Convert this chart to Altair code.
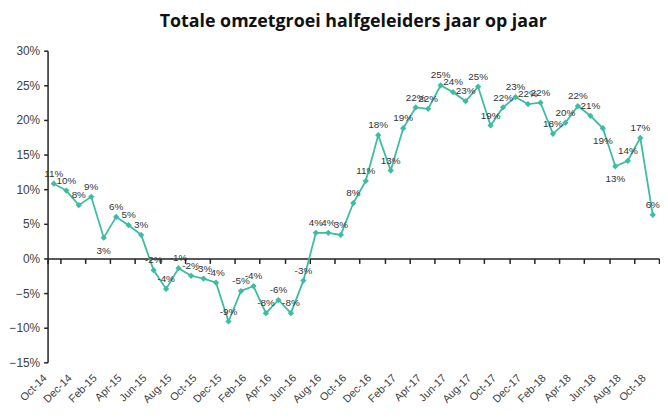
import altair as alt
import pandas as pd

months = [
    "Oct-14", "Nov-14", "Dec-14",
    "Jan-15", "Feb-15", "Mar-15", "Apr-15", "May-15", "Jun-15", "Jul-15", "Aug-15", "Sep-15", "Oct-15", "Nov-15", "Dec-15",
    "Jan-16", "Feb-16", "Mar-16", "Apr-16", "May-16", "Jun-16", "Jul-16", "Aug-16", "Sep-16", "Oct-16", "Nov-16", "Dec-16",
    "Jan-17", "Feb-17", "Mar-17", "Apr-17", "May-17", "Jun-17", "Jul-17", "Aug-17", "Sep-17", "Oct-17", "Nov-17", "Dec-17",
    "Jan-18", "Feb-18", "Mar-18", "Apr-18", "May-18", "Jun-18", "Jul-18", "Aug-18", "Sep-18", "Oct-18",
]
growth = [
    10.8, 9.8, 7.7,
    8.9, 3.0, 6.0, 4.8, 3.4, -1.7, -4.4, -1.4, -2.5, -2.9, -3.5, -9.1,
    -4.7, -4.0, -7.9, -6.0, -7.9, -3.2, 3.7, 3.7, 3.4, 8.0, 11.2, 17.8,
    12.7, 18.8, 21.8, 21.6, 25.0, 24.0, 22.7, 24.8, 19.2, 21.8, 23.3, 22.3,
    22.5, 18.0, 19.6, 22.0, 20.6, 18.8, 13.3, 14.1, 17.4, 6.3,
]
labels_below = ["Feb-15", "Jun-18", "Jul-18"]
tick_months = months[::2]
y_ticks = [-0.15, -0.10, -0.05, 0, 0.05, 0.10, 0.15, 0.20, 0.25, 0.30]

df = pd.DataFrame({"month": months, "growth": [g / 100 for g in growth]})
df["label"] = [f"{round(g):.0f}%" for g in growth]
df["below"] = df["month"].isin(labels_below)

W, H = 618, 315
y_min, y_max = -0.15, 0.30
below_zero = H * (0 - y_min) / (y_max - y_min)
FONT = "Liberation Sans"

x_enc = alt.X(
    "month:N",
    sort=months,
    bandPosition=0.5,
    scale=alt.Scale(type="band", paddingInner=0, paddingOuter=0),
    axis=alt.Axis(
        title=None,
        values=tick_months,
        tickBand="extent",
        offset=-below_zero,
        labelPadding=below_zero + 9,
        labelOffset=-9,
        labelAngle=-45,
        labelAlign="right",
        labelBaseline="middle",
        labelFont=FONT,
        labelFontSize=11,
        labelColor="#404040",
        domainColor="#222222",
        domainWidth=1.5,
        tickColor="#222222",
        tickWidth=1.5,
        tickSize=5,
        labelOverlap=False,
        labelFlush=False,
    ),
)

y_enc = alt.Y(
    "growth:Q",
    scale=alt.Scale(domain=[y_min, y_max], nice=False),
    axis=alt.Axis(
        title=None,
        format=".0%",
        values=y_ticks,
        tickCount=len(y_ticks),
        grid=False,
        labelOverlap=False,
        labelFont=FONT,
        labelFontSize=12,
        labelColor="#404040",
        labelPadding=4,
        domainColor="#222222",
        domainWidth=1.5,
        tickColor="#222222",
        tickWidth=1.5,
        tickSize=4,
    ),
)

base = alt.Chart(df)

line = base.mark_line(
    color="#3cbca0",
    strokeWidth=1.8,
    point=alt.OverlayMarkDef(shape="diamond", size=40, color="#3cbca0", filled=True),
).encode(x=x_enc, y=y_enc)

x_txt = alt.X("month:N", sort=months, bandPosition=0.5)

text_above = base.transform_filter("!datum.below").mark_text(
    dy=-10, font=FONT, fontSize=10, color="#333333"
).encode(x=x_txt, y="growth:Q", text="label:N")

text_below = base.transform_filter("datum.below").mark_text(
    dy=13, font=FONT, fontSize=10, color="#333333"
).encode(x=x_txt, y="growth:Q", text="label:N")

chart = (
    alt.layer(line, text_above, text_below)
    .properties(
        width=W,
        height=H,
        title=alt.TitleParams(
            "Totale omzetgroei halfgeleiders jaar op jaar",
            font="Open Sans",
            fontSize=18,
            fontWeight="bold",
            color="#111111",
            anchor="middle",
            offset=14,
        ),
        padding={"left": 0, "top": 3, "right": 0, "bottom": 0},
    )
    .configure_view(stroke=None)
)

chart.save("out.html", embed_options={"renderer": "svg", "actions": False})
